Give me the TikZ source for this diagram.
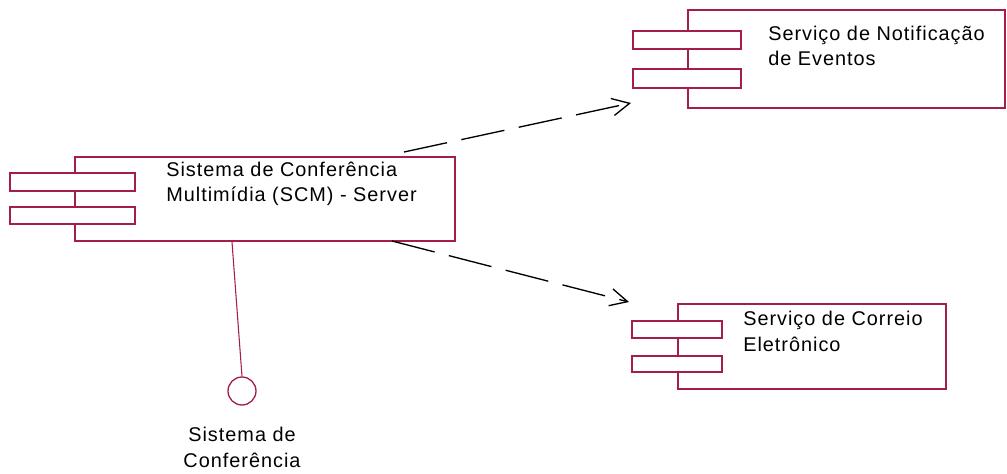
\documentclass[tikz,border=0pt]{standalone}
\usepackage{fontspec}
\setmainfont{Liberation Sans}[LetterSpace=5]
\usetikzlibrary{fit,calc,arrows.meta}
\definecolor{umlred}{RGB}{165,30,75}
\begin{document}
\begin{tikzpicture}[x=0.75pt,y=-0.75pt,
  box/.style={draw=umlred,line width=1.5pt,inner sep=0pt,fill=white},
  ifcball/.style={circle,draw=umlred,line width=1pt,inner sep=0pt,minimum size=21pt},
  lbl/.style={inner sep=0pt,align=left,font=\fontsize{14.9}{19.1}\selectfont},
  dep/.style={line width=1pt,dash pattern=on 33pt off 11pt,-{Straight Barb[length=13pt,width=13pt,line width=1pt]}},
  ifcline/.style={draw=umlred,line width=0.8pt}]
\useasboundingbox (0,0) rectangle (1007,474);
% Server component
\node[box,fit={(75,157)(455,241)}] (srv) {};
\node[box,fit={(10,173)(135,191)}] (srvbA) {};
\node[box,fit={(10,207)(135,224)}] (srvbB) {};
\node[lbl,anchor=base west] (srvlbl) at (166,202) {Sistema de Conferência\\Multimídia (SCM) - Server};
% Notification component
\node[box,fit={(688,10)(1005,108)}] (ntf) {};
\node[box,fit={(633,31)(741,49)}] (ntfbA) {};
\node[box,fit={(633,69)(741,88)}] (ntfbB) {};
\node[lbl,anchor=base west] (ntflbl) at (768,66) {Serviço de Notificação\\de Eventos};
% Mail component
\node[box,fit={(678,304)(946,389)}] (cor) {};
\node[box,fit={(632,321)(722,338)}] (corbA) {};
\node[box,fit={(632,356)(722,372)}] (corbB) {};
\node[lbl,anchor=base west] (corlbl) at (743,351) {Serviço de Correio\\Eletrônico};
% Interface
\node[ifcball] (ifc) at (242,391) {};
\node[lbl,align=center,anchor=base] (ifclbl) at (242,467) {Sistema de\\Conferência};
\draw[ifcline] ($(srv.south west)+(158,0)$) -- (ifc.north);
% Dependencies
\draw[dep] ($(srv.north west)+(330,-4)$) -- ($(ntfbB.south west)+(-1,14)$);
\draw[dep] ($(srv.south west)+(318,-1)$) -- ($(corbA.north west)+(-2,-18)$);
\end{tikzpicture}
\end{document}
